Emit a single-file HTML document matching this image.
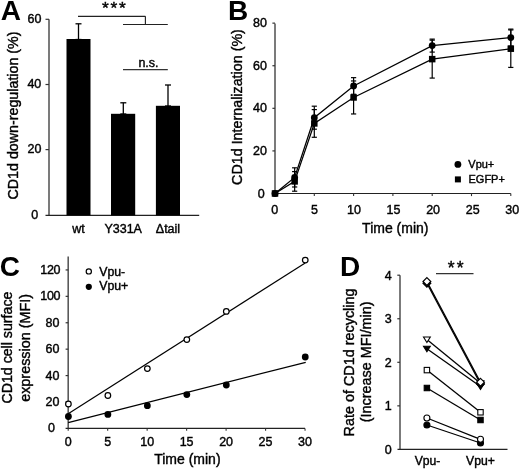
<!DOCTYPE html>
<html><head><meta charset="utf-8"><style>
html,body{margin:0;padding:0;background:#fff;}
body{width:520px;height:469px;overflow:hidden;}
svg{display:block;font-family:"Liberation Sans", sans-serif;will-change:transform;}
text{fill:#000;stroke:#000;stroke-width:0.4px;}
</style></head><body>
<svg width="520" height="469" viewBox="0 0 520 469">
<text x="0.8" y="20.4" font-size="28" text-anchor="start" font-weight="bold" style="stroke-width:0">A</text>
<line x1="49" y1="19.2" x2="49" y2="215.5" stroke="#5a5a5a" stroke-width="1.6"/>
<line x1="45.5" y1="215.4" x2="199.2" y2="215.4" stroke="#222" stroke-width="1.2"/>
<line x1="45.5" y1="19.3" x2="49" y2="19.3" stroke="#333" stroke-width="1.2"/>
<line x1="45.5" y1="84.5" x2="49" y2="84.5" stroke="#333" stroke-width="1.2"/>
<line x1="45.5" y1="149.6" x2="49" y2="149.6" stroke="#333" stroke-width="1.2"/>
<text x="27.5" y="23.0" font-size="12.5" text-anchor="start" font-weight="normal" >60</text>
<text x="27.4" y="88.0" font-size="12.5" text-anchor="start" font-weight="normal" >40</text>
<text x="27.5" y="153.1" font-size="12.5" text-anchor="start" font-weight="normal" >20</text>
<text x="31.3" y="219.0" font-size="12.5" text-anchor="start" font-weight="normal" >0</text>
<rect x="66.5" y="39.0" width="24.0" height="176.4" fill="#000"/>
<rect x="111.0" y="113.8" width="24.19999999999999" height="101.60000000000001" fill="#000"/>
<rect x="155.9" y="105.8" width="24.099999999999994" height="109.60000000000001" fill="#000"/>
<line x1="78.5" y1="23.8" x2="78.5" y2="39.5" stroke="#000" stroke-width="1.3"/>
<line x1="75.5" y1="23.8" x2="81.5" y2="23.8" stroke="#000" stroke-width="1.3"/>
<line x1="75.5" y1="39.5" x2="81.5" y2="39.5" stroke="#000" stroke-width="1.3"/>
<line x1="123.3" y1="102.8" x2="123.3" y2="114" stroke="#000" stroke-width="1.3"/>
<line x1="120.3" y1="102.8" x2="126.3" y2="102.8" stroke="#000" stroke-width="1.3"/>
<line x1="120.3" y1="114" x2="126.3" y2="114" stroke="#000" stroke-width="1.3"/>
<line x1="168" y1="85.0" x2="168" y2="106" stroke="#000" stroke-width="1.3"/>
<line x1="165.0" y1="85.0" x2="171.0" y2="85.0" stroke="#000" stroke-width="1.3"/>
<line x1="165.0" y1="106" x2="171.0" y2="106" stroke="#000" stroke-width="1.3"/>
<line x1="78" y1="16.3" x2="145.4" y2="16.3" stroke="#222" stroke-width="1.15"/>
<line x1="145.4" y1="16.3" x2="145.4" y2="24.5" stroke="#222" stroke-width="1.15"/>
<line x1="123" y1="24.5" x2="167.8" y2="24.5" stroke="#222" stroke-width="1.15"/>
<line x1="123" y1="69.7" x2="167.8" y2="69.7" stroke="#333" stroke-width="1.3"/>
<text x="101.9 110.5 119.0" y="14.2" font-size="17.4">***</text>
<text x="138.4" y="66.7" font-size="12.5" text-anchor="start" font-weight="normal" >n.s.</text>
<text x="72.2" y="232.8" font-size="12.5" text-anchor="start" font-weight="normal" >wt</text>
<text x="104.4" y="232.8" font-size="12.5" text-anchor="start" font-weight="normal" >Y331A</text>
<text x="155.8" y="232.8" font-size="12.5" text-anchor="start" font-weight="normal" >&#916;tail</text>
<text transform="translate(18.2,115.5) rotate(-90)" x="0" y="0" font-size="14.28" text-anchor="middle">CD1d down-regulation (%)</text>
<text x="228.1" y="20.4" font-size="28" text-anchor="start" font-weight="bold" style="stroke-width:0">B</text>
<line x1="275.0" y1="23.5" x2="275.0" y2="193.5" stroke="#5a5a5a" stroke-width="1.6"/>
<line x1="275.0" y1="193.5" x2="510.8" y2="193.5" stroke="#222" stroke-width="1.2"/>
<line x1="272.4" y1="150.91" x2="275.0" y2="150.91" stroke="#333" stroke-width="1.2"/>
<line x1="272.4" y1="108.32" x2="275.0" y2="108.32" stroke="#333" stroke-width="1.2"/>
<line x1="272.4" y1="65.72999999999999" x2="275.0" y2="65.72999999999999" stroke="#333" stroke-width="1.2"/>
<line x1="272.4" y1="23.139999999999986" x2="275.0" y2="23.139999999999986" stroke="#333" stroke-width="1.2"/>
<line x1="314.3" y1="193.5" x2="314.3" y2="196.1" stroke="#333" stroke-width="1.1"/>
<line x1="353.6" y1="193.5" x2="353.6" y2="196.1" stroke="#333" stroke-width="1.1"/>
<line x1="392.9" y1="193.5" x2="392.9" y2="196.1" stroke="#333" stroke-width="1.1"/>
<line x1="432.20000000000005" y1="193.5" x2="432.20000000000005" y2="196.1" stroke="#333" stroke-width="1.1"/>
<line x1="471.5" y1="193.5" x2="471.5" y2="196.1" stroke="#333" stroke-width="1.1"/>
<line x1="510.8" y1="193.5" x2="510.8" y2="196.1" stroke="#333" stroke-width="1.1"/>
<text x="264.8" y="197.9" font-size="12.5" text-anchor="end" font-weight="normal" >0</text>
<text x="267.0" y="154.91" font-size="12.5" text-anchor="end" font-weight="normal" >20</text>
<text x="267.0" y="112.32" font-size="12.5" text-anchor="end" font-weight="normal" >40</text>
<text x="267.0" y="69.72999999999999" font-size="12.5" text-anchor="end" font-weight="normal" >60</text>
<text x="267.0" y="27.139999999999986" font-size="12.5" text-anchor="end" font-weight="normal" >80</text>
<text x="274.8" y="213.6" font-size="12.5" text-anchor="middle" font-weight="normal" >0</text>
<text x="314.375" y="213.6" font-size="12.5" text-anchor="middle" font-weight="normal" >5</text>
<text x="353.95000000000005" y="213.6" font-size="12.5" text-anchor="middle" font-weight="normal" >10</text>
<text x="393.525" y="213.6" font-size="12.5" text-anchor="middle" font-weight="normal" >15</text>
<text x="433.1000000000001" y="213.6" font-size="12.5" text-anchor="middle" font-weight="normal" >20</text>
<text x="472.675" y="213.6" font-size="12.5" text-anchor="middle" font-weight="normal" >25</text>
<text x="512.25" y="213.6" font-size="12.5" text-anchor="middle" font-weight="normal" >30</text>
<text x="362.1" y="232.5" font-size="14" text-anchor="start" font-weight="normal" >Time (min)</text>
<text transform="translate(242.2,107.0) rotate(-90)" x="0" y="0" font-size="14.3" text-anchor="middle">CD1d Internalization (%)</text>
<line x1="294.65" y1="167.81823" x2="294.65" y2="186.98373" stroke="#000" stroke-width="1.2"/>
<line x1="292.04999999999995" y1="167.81823" x2="297.25" y2="167.81823" stroke="#000" stroke-width="1.2"/>
<line x1="292.04999999999995" y1="186.98373" x2="297.25" y2="186.98373" stroke="#000" stroke-width="1.2"/>
<line x1="294.65" y1="171.60874" x2="294.65" y2="191.20014" stroke="#000" stroke-width="1.2"/>
<line x1="292.04999999999995" y1="171.60874" x2="297.25" y2="171.60874" stroke="#000" stroke-width="1.2"/>
<line x1="292.04999999999995" y1="191.20014" x2="297.25" y2="191.20014" stroke="#000" stroke-width="1.2"/>
<line x1="314.3" y1="106.19049999999999" x2="314.3" y2="129.1891" stroke="#000" stroke-width="1.2"/>
<line x1="311.7" y1="106.19049999999999" x2="316.90000000000003" y2="106.19049999999999" stroke="#000" stroke-width="1.2"/>
<line x1="311.7" y1="129.1891" x2="316.90000000000003" y2="129.1891" stroke="#000" stroke-width="1.2"/>
<line x1="314.3" y1="109.5977" x2="314.3" y2="137.2812" stroke="#000" stroke-width="1.2"/>
<line x1="311.7" y1="109.5977" x2="316.90000000000003" y2="109.5977" stroke="#000" stroke-width="1.2"/>
<line x1="311.7" y1="137.2812" x2="316.90000000000003" y2="137.2812" stroke="#000" stroke-width="1.2"/>
<line x1="353.6" y1="77.6552" x2="353.6" y2="94.26529999999998" stroke="#000" stroke-width="1.2"/>
<line x1="351.0" y1="77.6552" x2="356.20000000000005" y2="77.6552" stroke="#000" stroke-width="1.2"/>
<line x1="351.0" y1="94.26529999999998" x2="356.20000000000005" y2="94.26529999999998" stroke="#000" stroke-width="1.2"/>
<line x1="353.6" y1="80.955925" x2="353.6" y2="113.96317499999999" stroke="#000" stroke-width="1.2"/>
<line x1="351.0" y1="80.955925" x2="356.20000000000005" y2="80.955925" stroke="#000" stroke-width="1.2"/>
<line x1="351.0" y1="113.96317499999999" x2="356.20000000000005" y2="113.96317499999999" stroke="#000" stroke-width="1.2"/>
<line x1="432.20000000000005" y1="39.111249999999984" x2="432.20000000000005" y2="52.10119999999998" stroke="#000" stroke-width="1.2"/>
<line x1="429.6" y1="39.111249999999984" x2="434.80000000000007" y2="39.111249999999984" stroke="#000" stroke-width="1.2"/>
<line x1="429.6" y1="52.10119999999998" x2="434.80000000000007" y2="52.10119999999998" stroke="#000" stroke-width="1.2"/>
<line x1="432.20000000000005" y1="40.17599999999999" x2="432.20000000000005" y2="78.08109999999998" stroke="#000" stroke-width="1.2"/>
<line x1="429.6" y1="40.17599999999999" x2="434.80000000000007" y2="40.17599999999999" stroke="#000" stroke-width="1.2"/>
<line x1="429.6" y1="78.08109999999998" x2="434.80000000000007" y2="78.08109999999998" stroke="#000" stroke-width="1.2"/>
<line x1="510.8" y1="29.102599999999967" x2="510.8" y2="46.13859999999997" stroke="#000" stroke-width="1.2"/>
<line x1="508.2" y1="29.102599999999967" x2="513.4" y2="29.102599999999967" stroke="#000" stroke-width="1.2"/>
<line x1="508.2" y1="46.13859999999997" x2="513.4" y2="46.13859999999997" stroke="#000" stroke-width="1.2"/>
<line x1="510.8" y1="29.954399999999993" x2="510.8" y2="67.43359999999998" stroke="#000" stroke-width="1.2"/>
<line x1="508.2" y1="29.954399999999993" x2="513.4" y2="29.954399999999993" stroke="#000" stroke-width="1.2"/>
<line x1="508.2" y1="67.43359999999998" x2="513.4" y2="67.43359999999998" stroke="#000" stroke-width="1.2"/>
<polyline points="275.0,193.5 294.65,177.40098 314.3,117.68979999999999 353.6,85.96024999999999 432.20000000000005,45.606224999999995 510.8,37.62059999999997" fill="none" stroke="#000" stroke-width="1.25"/>
<polyline points="275.0,193.5 294.65,181.40444 314.3,123.43945 353.6,97.45955 432.20000000000005,59.12854999999999 510.8,48.69399999999999" fill="none" stroke="#000" stroke-width="1.25"/>
<rect x="271.75" y="190.25" width="6.5" height="6.5" fill="#000" stroke="#000" stroke-width="0"/>
<rect x="291.4" y="178.15444" width="6.5" height="6.5" fill="#000" stroke="#000" stroke-width="0"/>
<rect x="311.05" y="120.18945" width="6.5" height="6.5" fill="#000" stroke="#000" stroke-width="0"/>
<rect x="350.35" y="94.20955" width="6.5" height="6.5" fill="#000" stroke="#000" stroke-width="0"/>
<rect x="428.95000000000005" y="55.87854999999999" width="6.5" height="6.5" fill="#000" stroke="#000" stroke-width="0"/>
<rect x="507.55" y="45.44399999999999" width="6.5" height="6.5" fill="#000" stroke="#000" stroke-width="0"/>
<circle cx="275.0" cy="193.5" r="3.4" fill="#000" stroke="#000" stroke-width="0"/>
<circle cx="294.65" cy="177.40098" r="3.4" fill="#000" stroke="#000" stroke-width="0"/>
<circle cx="314.3" cy="117.68979999999999" r="3.4" fill="#000" stroke="#000" stroke-width="0"/>
<circle cx="353.6" cy="85.96024999999999" r="3.4" fill="#000" stroke="#000" stroke-width="0"/>
<circle cx="432.20000000000005" cy="45.606224999999995" r="3.4" fill="#000" stroke="#000" stroke-width="0"/>
<circle cx="510.8" cy="37.62059999999997" r="3.4" fill="#000" stroke="#000" stroke-width="0"/>
<circle cx="457.9" cy="164.4" r="3.4" fill="#000" stroke="#000" stroke-width="0"/>
<rect x="454.9" y="176.4" width="6" height="6" fill="#000" stroke="#000" stroke-width="0"/>
<text x="468.3" y="168.0" font-size="11" text-anchor="start" font-weight="normal" >Vpu+</text>
<text x="468.5" y="182.8" font-size="11" text-anchor="start" font-weight="normal" >EGFP+</text>
<text x="-0.15" y="275.7" font-size="28" text-anchor="start" font-weight="bold" style="stroke-width:0">C</text>
<line x1="68.2" y1="256.6" x2="68.2" y2="428.4" stroke="#5a5a5a" stroke-width="1.6"/>
<line x1="65.6" y1="428.4" x2="305.05" y2="428.4" stroke="#222" stroke-width="1.2"/>
<line x1="65.6" y1="401.98999999999995" x2="68.2" y2="401.98999999999995" stroke="#333" stroke-width="1.2"/>
<line x1="65.6" y1="375.58" x2="68.2" y2="375.58" stroke="#333" stroke-width="1.2"/>
<line x1="65.6" y1="349.16999999999996" x2="68.2" y2="349.16999999999996" stroke="#333" stroke-width="1.2"/>
<line x1="65.6" y1="322.76" x2="68.2" y2="322.76" stroke="#333" stroke-width="1.2"/>
<line x1="65.6" y1="296.34999999999997" x2="68.2" y2="296.34999999999997" stroke="#333" stroke-width="1.2"/>
<line x1="65.6" y1="269.93999999999994" x2="68.2" y2="269.93999999999994" stroke="#333" stroke-width="1.2"/>
<line x1="68.2" y1="428.4" x2="68.2" y2="430.7" stroke="#333" stroke-width="1.1"/>
<line x1="107.675" y1="428.4" x2="107.675" y2="430.7" stroke="#333" stroke-width="1.1"/>
<line x1="147.14999999999998" y1="428.4" x2="147.14999999999998" y2="430.7" stroke="#333" stroke-width="1.1"/>
<line x1="186.625" y1="428.4" x2="186.625" y2="430.7" stroke="#333" stroke-width="1.1"/>
<line x1="226.09999999999997" y1="428.4" x2="226.09999999999997" y2="430.7" stroke="#333" stroke-width="1.1"/>
<line x1="265.575" y1="428.4" x2="265.575" y2="430.7" stroke="#333" stroke-width="1.1"/>
<line x1="305.05" y1="428.4" x2="305.05" y2="430.7" stroke="#333" stroke-width="1.1"/>
<text x="55.0" y="432.4" font-size="12.5" text-anchor="end" font-weight="normal" >0</text>
<text x="59.5" y="405.98999999999995" font-size="12.5" text-anchor="end" font-weight="normal" >20</text>
<text x="59.5" y="379.58" font-size="12.5" text-anchor="end" font-weight="normal" >40</text>
<text x="59.5" y="353.16999999999996" font-size="12.5" text-anchor="end" font-weight="normal" >60</text>
<text x="59.5" y="326.76" font-size="12.5" text-anchor="end" font-weight="normal" >80</text>
<text x="60.1" y="300.34999999999997" font-size="12.5" text-anchor="end" font-weight="normal" letter-spacing="-0.35">100</text>
<text x="60.1" y="273.93999999999994" font-size="12.5" text-anchor="end" font-weight="normal" letter-spacing="-0.35">120</text>
<text x="68.2" y="445.6" font-size="12.5" text-anchor="middle" font-weight="normal" >0</text>
<text x="107.675" y="445.6" font-size="12.5" text-anchor="middle" font-weight="normal" >5</text>
<text x="147.14999999999998" y="445.6" font-size="12.5" text-anchor="middle" font-weight="normal" >10</text>
<text x="186.625" y="445.6" font-size="12.5" text-anchor="middle" font-weight="normal" >15</text>
<text x="226.09999999999997" y="445.6" font-size="12.5" text-anchor="middle" font-weight="normal" >20</text>
<text x="265.575" y="445.6" font-size="12.5" text-anchor="middle" font-weight="normal" >25</text>
<text x="305.05" y="445.6" font-size="12.5" text-anchor="middle" font-weight="normal" >30</text>
<text x="154.2" y="464.4" font-size="14" text-anchor="start" font-weight="normal" >Time (min)</text>
<text transform="translate(12.4,347.6) rotate(-90)" x="0" y="0" font-size="14.2" text-anchor="middle">CD1d cell surface</text>
<text transform="translate(29.8,347.9) rotate(-90)" x="0" y="0" font-size="14.4" text-anchor="middle">expression (MFI)</text>
<line x1="68.2" y1="413.8" x2="305.2" y2="263.0" stroke="#000" stroke-width="1.2"/>
<line x1="68.2" y1="422.7" x2="305.7" y2="362.3" stroke="#000" stroke-width="1.2"/>
<circle cx="68.4" cy="404.0" r="2.8" fill="#fff" stroke="#000" stroke-width="1.2"/>
<circle cx="107.875" cy="395.5" r="2.8" fill="#fff" stroke="#000" stroke-width="1.2"/>
<circle cx="147.34999999999997" cy="368.6" r="2.8" fill="#fff" stroke="#000" stroke-width="1.2"/>
<circle cx="186.825" cy="339.6" r="2.8" fill="#fff" stroke="#000" stroke-width="1.2"/>
<circle cx="226.29999999999995" cy="311.4" r="2.8" fill="#fff" stroke="#000" stroke-width="1.2"/>
<circle cx="305.25" cy="260.1" r="2.8" fill="#fff" stroke="#000" stroke-width="1.2"/>
<circle cx="68.4" cy="416.5" r="3.4" fill="#000" stroke="#000" stroke-width="0"/>
<circle cx="107.875" cy="414.4" r="3.4" fill="#000" stroke="#000" stroke-width="0"/>
<circle cx="147.34999999999997" cy="405.7" r="3.4" fill="#000" stroke="#000" stroke-width="0"/>
<circle cx="186.825" cy="394.6" r="3.4" fill="#000" stroke="#000" stroke-width="0"/>
<circle cx="226.29999999999995" cy="385.0" r="3.4" fill="#000" stroke="#000" stroke-width="0"/>
<circle cx="305.25" cy="357.0" r="3.4" fill="#000" stroke="#000" stroke-width="0"/>
<circle cx="88.8" cy="271.4" r="2.6" fill="#fff" stroke="#000" stroke-width="1.2"/>
<circle cx="88.8" cy="286.8" r="3.1" fill="#000" stroke="#000" stroke-width="0"/>
<text x="99.2" y="275.5" font-size="12.3" text-anchor="start" font-weight="normal" >Vpu-</text>
<text x="99.2" y="290.4" font-size="12.3" text-anchor="start" font-weight="normal" >Vpu+</text>
<text x="340.0" y="275.6" font-size="28" text-anchor="start" font-weight="bold" style="stroke-width:0">D</text>
<line x1="400.0" y1="275.2" x2="400.0" y2="449.4" stroke="#5a5a5a" stroke-width="1.6"/>
<line x1="397.5" y1="449.4" x2="507.5" y2="449.4" stroke="#222" stroke-width="1.2"/>
<line x1="397.3" y1="405.84999999999997" x2="400.0" y2="405.84999999999997" stroke="#333" stroke-width="1.2"/>
<line x1="397.3" y1="362.29999999999995" x2="400.0" y2="362.29999999999995" stroke="#333" stroke-width="1.2"/>
<line x1="397.3" y1="318.75" x2="400.0" y2="318.75" stroke="#333" stroke-width="1.2"/>
<line x1="397.3" y1="275.2" x2="400.0" y2="275.2" stroke="#333" stroke-width="1.2"/>
<text x="391.6" y="453.79999999999995" font-size="12.5" text-anchor="end" font-weight="normal" >0</text>
<text x="391.6" y="410.24999999999994" font-size="12.5" text-anchor="end" font-weight="normal" >1</text>
<text x="391.6" y="366.69999999999993" font-size="12.5" text-anchor="end" font-weight="normal" >2</text>
<text x="391.6" y="323.15" font-size="12.5" text-anchor="end" font-weight="normal" >3</text>
<text x="391.6" y="279.59999999999997" font-size="12.5" text-anchor="end" font-weight="normal" >4</text>
<text x="427.5" y="465.0" font-size="12.2" text-anchor="middle" font-weight="normal" >Vpu-</text>
<text x="480.5" y="465.0" font-size="12.2" text-anchor="middle" font-weight="normal" >Vpu+</text>
<text transform="translate(354.4,362.5) rotate(-90)" x="0" y="0" font-size="14.4" text-anchor="middle">Rate of CD1d recycling</text>
<text transform="translate(370.8,361.9) rotate(-90)" x="0" y="0" font-size="14.4" text-anchor="middle">(Increase MFI/min)</text>
<line x1="426.9" y1="283.2" x2="480.5" y2="384.0" stroke="#000" stroke-width="1.3"/>
<line x1="426.9" y1="281.5" x2="480.5" y2="382.2" stroke="#000" stroke-width="1.3"/>
<line x1="426.9" y1="339.6" x2="480.5" y2="383.3" stroke="#000" stroke-width="1.3"/>
<line x1="426.9" y1="348.8" x2="480.5" y2="386.5" stroke="#000" stroke-width="1.3"/>
<line x1="426.9" y1="370.1" x2="480.5" y2="412.3" stroke="#000" stroke-width="1.3"/>
<line x1="426.9" y1="388.0" x2="480.5" y2="420.0" stroke="#000" stroke-width="1.3"/>
<line x1="426.9" y1="418.0" x2="480.5" y2="439.3" stroke="#000" stroke-width="1.3"/>
<line x1="426.9" y1="425.0" x2="480.5" y2="443.0" stroke="#000" stroke-width="1.3"/>
<polygon points="423.5,346.25 430.29999999999995,346.25 426.9,351.69" fill="#000" stroke="#000" stroke-width="1.1"/>
<polygon points="477.1,383.95 483.9,383.95 480.5,389.39" fill="#000" stroke="#000" stroke-width="1.1"/>
<polygon points="423.5,337.05 430.29999999999995,337.05 426.9,342.49" fill="#fff" stroke="#000" stroke-width="1.1"/>
<polygon points="477.1,380.75 483.9,380.75 480.5,386.19" fill="#fff" stroke="#000" stroke-width="1.1"/>
<polygon points="426.9,279.3 430.79999999999995,283.2 426.9,287.09999999999997 423.0,283.2" fill="#000" stroke="#000" stroke-width="1.2"/>
<polygon points="480.5,380.1 484.4,384.0 480.5,387.9 476.6,384.0" fill="#000" stroke="#000" stroke-width="1.2"/>
<polygon points="426.9,277.6 430.79999999999995,281.5 426.9,285.4 423.0,281.5" fill="#fff" stroke="#000" stroke-width="1.2"/>
<polygon points="480.5,378.3 484.4,382.2 480.5,386.09999999999997 476.6,382.2" fill="#fff" stroke="#000" stroke-width="1.2"/>
<rect x="424.2" y="385.3" width="5.4" height="5.4" fill="#000" stroke="#000" stroke-width="1.1"/>
<rect x="477.8" y="417.3" width="5.4" height="5.4" fill="#000" stroke="#000" stroke-width="1.1"/>
<rect x="424.2" y="367.40000000000003" width="5.4" height="5.4" fill="#fff" stroke="#000" stroke-width="1.1"/>
<rect x="477.8" y="409.6" width="5.4" height="5.4" fill="#fff" stroke="#000" stroke-width="1.1"/>
<circle cx="426.9" cy="425.0" r="3.0" fill="#000" stroke="#000" stroke-width="1.1"/>
<circle cx="480.5" cy="443.0" r="3.0" fill="#000" stroke="#000" stroke-width="1.1"/>
<circle cx="426.9" cy="418.0" r="3.0" fill="#fff" stroke="#000" stroke-width="1.1"/>
<circle cx="480.5" cy="439.3" r="3.0" fill="#fff" stroke="#000" stroke-width="1.1"/>
<line x1="436.0" y1="273.6" x2="473.5" y2="273.6" stroke="#333" stroke-width="1.3"/>
<text x="447.8 456.7" y="274.0" font-size="17.6">**</text>
</svg>
</body></html>
